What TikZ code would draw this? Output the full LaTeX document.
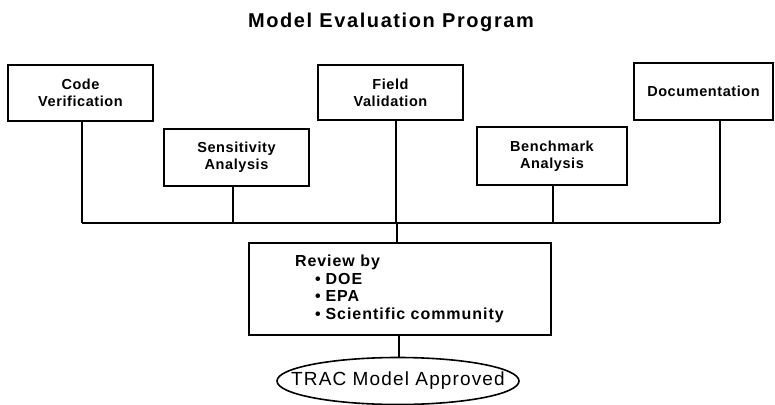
\documentclass[tikz,border=0pt]{standalone}
\usepackage{fontspec}
\setmainfont{Liberation Sans}
\usetikzlibrary{shapes.geometric}
\begin{document}
\begin{tikzpicture}[x=1pt,y=-1pt,
  line width=1.6pt,
  boxnode/.style={draw,rectangle,align=center,font=\fontsize{14.5}{16.8}\selectfont\bfseries\addfontfeatures{LetterSpace=4},inner sep=0pt,line width=1.6pt},
  wire/.style={line width=1.6pt}]
\useasboundingbox (0,0) rectangle (775,404);
\node[font=\fontsize{20}{22}\selectfont\bfseries\addfontfeatures{LetterSpace=8}] (title) at (391,22) {Model Evaluation Program};
\node[boxnode,minimum width=145pt,minimum height=56pt] (code) at (80.5,93) {Code\\Verification};
\node[boxnode,minimum width=145pt,minimum height=57pt] (sens) at (236.5,157.5) {Sensitivity\\Analysis};
\node[boxnode,minimum width=145pt,minimum height=55pt] (field) at (390.5,92.5) {Field\\Validation};
\node[boxnode,minimum width=150pt,minimum height=58pt] (bench) at (552,156) {Benchmark\\Analysis};
\node[boxnode,minimum width=139pt,minimum height=57pt] (doc) at (703.5,91.5) {Documentation};
\node[draw,rectangle,align=left,text width=210pt,inner xsep=46pt,inner ysep=0pt,minimum height=92pt,
  font=\fontsize{16}{17.7}\selectfont\bfseries\addfontfeatures{LetterSpace=6}] (review) at (400,289)
  {Review by\\\hspace*{20pt}\textbullet\hspace{5pt}DOE\\\hspace*{20pt}\textbullet\hspace{5pt}EPA\\\hspace*{20pt}\textbullet\hspace{5pt}Scientific community};
\node[draw,ellipse,minimum width=242pt,minimum height=47pt,inner xsep=-23pt,inner ysep=0pt,font=\fontsize{19}{21}\selectfont\addfontfeatures{LetterSpace=6}] (trac) at (398,381) {TRAC Model Approved};
\coordinate (busL) at (82,223);
\coordinate (busR) at (720,223);
\draw[wire] ([xshift=1.5pt]code.south) -- ([xshift=1.5pt]code.south |- busL);
\draw[wire] ([xshift=-3.5pt]sens.south) -- ([xshift=-3.5pt]sens.south |- busL);
\draw[wire] ([xshift=5.5pt]field.south) -- ([xshift=5.5pt]field.south |- busL);
\draw[wire] ([xshift=1pt]bench.south) -- ([xshift=1pt]bench.south |- busL);
\draw[wire] ([xshift=16.5pt]doc.south) -- ([xshift=16.5pt]doc.south |- busL);
\draw[wire] (busL) -- (busR);
\draw[wire] ([xshift=-3pt]review.north |- busL) -- ([xshift=-3pt]review.north);
\draw[wire] ([xshift=-1pt]review.south) -- ([xshift=-1pt]review.south |- trac.north);
\end{tikzpicture}
\end{document}
